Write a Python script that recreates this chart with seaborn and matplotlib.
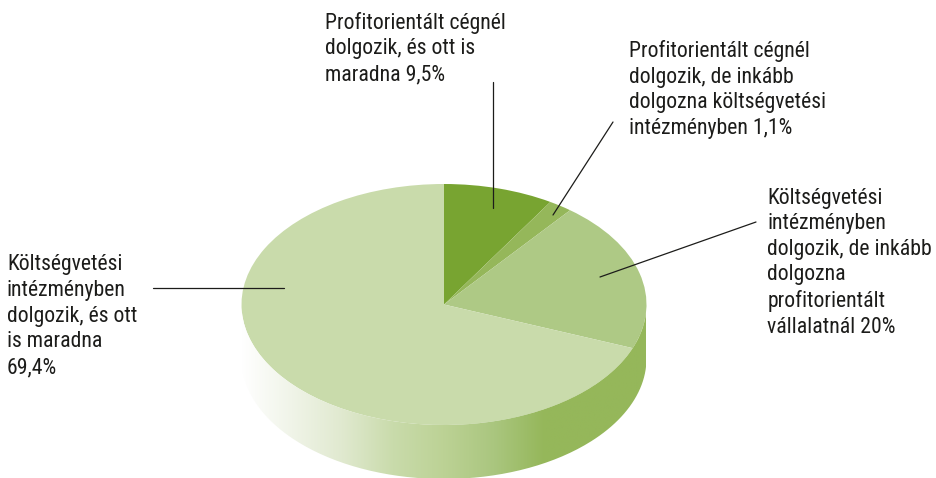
import numpy as np
import matplotlib.pyplot as plt
from matplotlib.patches import PathPatch
from matplotlib.path import Path
import seaborn as sns

# slices, clockwise from 12 o'clock
labels = ['Profitorientált cégnél\ndolgozik, és ott is\nmaradna 9,5%',
          'Profitorientált cégnél\ndolgozik, de inkább\ndolgozna költségvetési\nintézményben 1,1%',
          'Költségvetési\nintézményben\ndolgozik, de inkább\ndolgozna\nprofitorientált\nvállalatnál 20%',
          'Költségvetési\nintézményben\ndolgozik, és ott\nis maradna\n69,4%']
# shares as the slices are drawn in the picture (not quite the printed ones)
values = [8.8, 1.9, 20.2, 69.1]
colors = ['#78a431', '#95b75a', '#aec985', '#c9dbab']
side_colors = ['#ffffff', '#f0f4e8', '#e0e9cf', '#c9dbab', '#bcd295', '#aac67f',
               '#95b75a', '#95b75a', '#95b75a']

W, H = 937, 478
sns.set_theme(style='white')
plt.rcParams['font.family'] = ['Roboto Condensed', 'Liberation Sans', 'DejaVu Sans']

fig = plt.figure(figsize=(W / 100, H / 100), dpi=100)
bg = fig.add_axes([0, 0, 1, 1])
bg.axis('off')

# ellipse of the pie top in pixels
cx, cy, rx, ry, depth = 444, 304.5, 202.5, 120.5, 54

# side wall
t = np.linspace(0, np.pi, 200)
xs = cx + rx * np.cos(t)
ys = cy + ry * np.sin(t)
verts = np.r_[np.c_[xs, ys + depth], np.c_[xs[::-1], ys[::-1]]]
clip = PathPatch(Path(np.r_[verts, verts[:1]]), fc='none', ec='none')
bg.add_patch(clip)
cmap = sns.blend_palette(side_colors, as_cmap=True)
img = bg.imshow(np.linspace(0, 1, 256)[None, :], cmap=cmap, aspect='auto',
                extent=[cx - rx, cx + rx, cy + ry + depth, cy], zorder=0)
img.set_clip_path(clip)
bg.set_xlim(0, W)
bg.set_ylim(H, 0)

# pie top, squeezed into the ellipse
ax = fig.add_axes([(cx - rx) / W, 1 - (cy + ry) / H, 2 * rx / W, 2 * ry / H])
ax.pie(values, colors=colors, startangle=90, counterclock=False, radius=1,
       wedgeprops={'linewidth': 0})
ax.set_aspect('auto')
ax.set_xlim(-1, 1)
ax.set_ylim(-1, 1)

# labels (last baseline) and leader lines
text_pos = [(325.5, 80), (629.5, 134), (767.5, 333), (7, 373)]
leaders = [((493.5, 82), (493.5, 208)), ((613, 122), (553, 215)),
           ((756, 222), (600, 277)), ((153, 288), (284, 288))]
bg.set_zorder(3)
bg.patch.set_alpha(0)
for lab, p, (a, b) in zip(labels, text_pos, leaders):
    bg.text(p[0], p[1], lab, fontsize=15.7, color='#1c1c1a', va='baseline', ha='left', linespacing=1.29)
    bg.plot([a[0], b[0]], [a[1], b[1]], color='#1c1c1a', lw=0.9, zorder=5)

fig.savefig('out.png', dpi=100)
